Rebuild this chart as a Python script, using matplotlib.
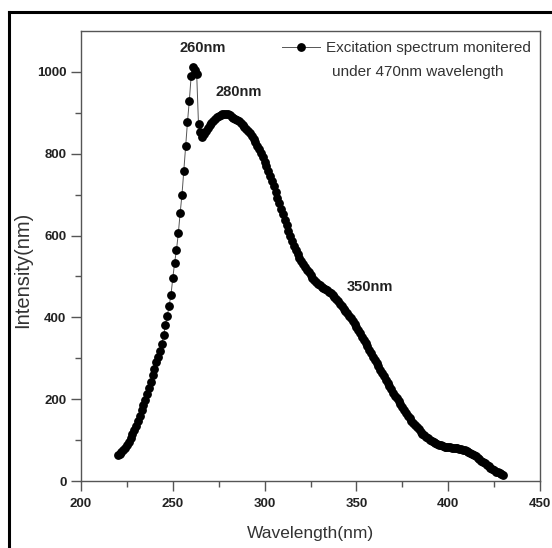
import numpy as np
import matplotlib
matplotlib.use("Agg")
import matplotlib.pyplot as plt
from matplotlib.lines import Line2D

plt.rcParams['font.family'] = ['Liberation Sans', 'DejaVu Sans']

# excitation spectrum (1 nm steps, 220..430 nm)
wavelength = np.arange(220, 431)
intensity = [
    63, 67, 72, 76, 81, 88, 95, 105, 114, 124,            # 220-229
    135, 147, 160, 173, 186, 199, 212, 227, 243, 259,     # 230-239
    275, 290, 303, 318, 336, 356, 382, 404, 428, 455,     # 240-249
    496, 534, 565, 605, 655, 700, 758, 818, 878, 930,     # 250-259
    990, 1013, 1005, 996, 872, 852, 842, 848, 856, 863,   # 260-269
    870, 876, 881, 885, 889, 892, 895, 897, 898, 897,     # 270-279
    896, 894, 891, 888, 885, 882, 879, 876, 871, 866,     # 280-289
    861, 856, 850, 844, 837, 829, 820, 811, 801, 791,     # 290-299
    780, 770, 759, 746, 733, 720, 706, 693, 679, 665,     # 300-309
    652, 638, 625, 611, 599, 587, 575, 564, 555, 546,     # 310-319
    538, 531, 524, 517, 510, 503, 497, 491, 486, 482,     # 320-329
    478, 475, 472, 469, 466, 462, 459, 455, 451, 446,     # 330-339
    440, 433, 427, 421, 415, 410, 404, 398, 391, 384,     # 340-349
    377, 369, 361, 353, 345, 337, 329, 320, 312, 304,     # 350-359
    296, 288, 280, 272, 264, 256, 248, 240, 232, 224,     # 360-369
    216, 209, 202, 195, 188, 181, 174, 167, 160, 153,     # 370-379
    147, 141, 136, 131, 126, 121, 116, 112, 108, 104,     # 380-389
    101, 98, 95, 92, 90, 88, 87, 85, 84, 83,              # 390-399
    82, 82, 81, 81, 80, 80, 79, 78, 77, 76,               # 400-409
    74, 72, 69, 66, 63, 60, 57, 53, 50, 47,               # 410-419
    43, 40, 36, 32, 29, 26, 23, 21, 19, 17,               # 420-429
    15,                                                   # 430
]

peak_labels = ["260nm", "280nm", "350nm"]
peak_pos = [(266.4, 1058), (285.9, 951), (357.4, 474)]

legend_line1 = "Excitation spectrum monitered"
legend_line2 = "under 470nm wavelength"

fig = plt.figure(figsize=(5.52, 5.48), dpi=100)
ax = fig.add_axes([81/552, 67/548, 459/552, 450/548])

ax.plot(wavelength, intensity, '-o', color='#555555', lw=0.7,
        markerfacecolor='black', markeredgecolor='black', markersize=5.3,
        label=legend_line1)

ax.set_xlim(200, 450)
ax.set_ylim(0, 1100)
ax.set_xticks(np.arange(200, 451, 50))
ax.set_xticks(np.arange(225, 450, 50), minor=True)
ax.set_yticks(np.arange(0, 1001, 200))
ax.set_yticks(np.arange(100, 1100, 200), minor=True)

for s in ax.spines.values():
    s.set_color('#555555')
    s.set_linewidth(1.0)
ax.tick_params(which='both', direction='out', color='#555555', width=1.0)
ax.tick_params(which='major', length=7)
ax.tick_params(which='minor', length=4)
ax.tick_params(axis='x', pad=5)
for lab in ax.get_xticklabels() + ax.get_yticklabels():
    lab.set_fontweight('bold')
    lab.set_fontsize(9.5)
    lab.set_color('#222222')

ax.set_xlabel("Wavelength(nm)", fontsize=12.5, color='#333333')
ax.set_ylabel("Intensity(nm)", fontsize=14.5, color='#333333')
ax.xaxis.set_label_coords(0.5, -0.100)
ax.yaxis.set_label_coords(-0.107, 0.47)

for txt, (x, y) in zip(peak_labels, peak_pos):
    ax.text(x, y, txt, ha='center', va='center', fontsize=10.5,
            fontweight='bold', color='#222222')

leg = ax.legend(loc='center left', frameon=False, fontsize=11,
                handlelength=2.5, handletextpad=0.37,
                borderpad=0, borderaxespad=0,
                bbox_to_anchor=(0.4373, 0.962))
for t in leg.get_texts():
    t.set_color('#333333')
ax.text(0.5464, 0.909, legend_line2, transform=ax.transAxes,
        ha='left', va='center', fontsize=11, color='#333333')

# outer frame (top and left edge only, rest cut off)
fig.add_artist(Line2D([9/552, 1.0], [1 - 12/548, 1 - 12/548],
                      transform=fig.transFigure, color='black', lw=2.2))
fig.add_artist(Line2D([9/552, 9/552], [0.0, 1 - 12/548],
                      transform=fig.transFigure, color='black', lw=2.2))

fig.savefig("out.png", dpi=100)
